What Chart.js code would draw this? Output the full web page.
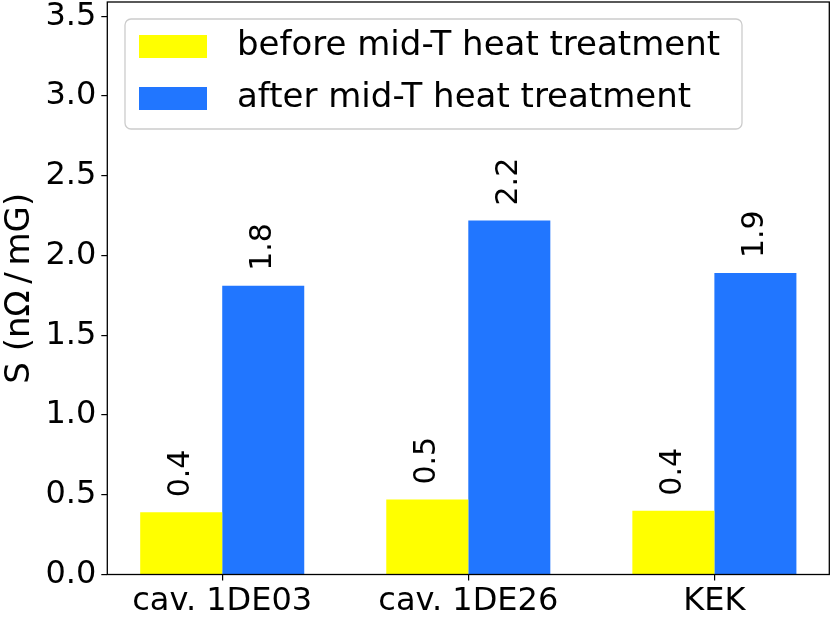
<!DOCTYPE html>
<html>
<head>
<meta charset="utf-8">
<script src="https://cdn.jsdelivr.net/npm/chart.js@4.4.1/dist/chart.umd.min.js"></script>
<style>
  html, body { margin: 0; padding: 0; background: #fff; }
  #wrap { width: 831px; height: 621px; }
</style>
</head>
<body>
<div id="wrap"><canvas id="sChart" width="831" height="621"></canvas></div>
<script>
const cavities = ["cav. 1DE03", "cav. 1DE26", "KEK"];
const seriesNames = ["before mid-T heat treatment", "after mid-T heat treatment"];
const beforeValues = [0.39, 0.47, 0.40];
const afterValues = [1.81, 2.22, 1.89];
const yTicks = [0.0, 0.5, 1.0, 1.5, 2.0, 2.5, 3.0, 3.5];
const yLabel = "S (nΩ\u2009/\u2009mG)";

const FONT = "DejaVu Sans";
const FS = 32;

// matplotlib-like frame around the plot
const framePlugin = {
  id: "frame",
  afterDraw(chart) {
    const { ctx, chartArea: a } = chart;
    ctx.save();
    ctx.strokeStyle = "#000";
    ctx.lineWidth = 1.3;
    ctx.strokeRect(a.left, a.top, a.right - a.left, a.bottom - a.top);
    ctx.restore();
  }
};

// rotated value labels above bars
const valueLabels = {
  id: "valueLabels",
  afterDatasetsDraw(chart) {
    const ctx = chart.ctx;
    ctx.save();
    ctx.fillStyle = "#000";
    ctx.font = "30px '" + FONT + "'";
    ctx.textAlign = "left";
    ctx.textBaseline = "middle";
    chart.data.datasets.forEach((ds, i) => {
      chart.getDatasetMeta(i).data.forEach((bar, j) => {
        ctx.save();
        ctx.translate(bar.x, bar.y - 15);
        ctx.rotate(-Math.PI / 2);
        ctx.fillText(ds.data[j].y.toFixed(1), 0, 0);
        ctx.restore();
      });
    });
    ctx.restore();
  }
};

// legend box in upper left, like matplotlib
const boxLegend = {
  id: "boxLegend",
  afterDraw(chart) {
    const ctx = chart.ctx;
    const x = 125, y = 19, w = 617, h = 110;
    ctx.save();
    ctx.beginPath();
    ctx.roundRect(x, y, w, h, 6);
    ctx.fillStyle = "rgba(255,255,255,0.8)";
    ctx.fill();
    ctx.strokeStyle = "#cccccc";
    ctx.lineWidth = 1.3;
    ctx.stroke();
    ctx.font = "34px '" + FONT + "'";
    ctx.textBaseline = "middle";
    chart.data.datasets.forEach((ds, i) => {
      const cy = y + 27 + i * 52;
      ctx.fillStyle = ds.backgroundColor;
      ctx.fillRect(x + 14, cy - 11, 68, 23);
      ctx.fillStyle = "#000";
      ctx.fillText(ds.label, x + 112, cy);
    });
    ctx.restore();
  }
};

new Chart(document.getElementById("sChart"), {
  type: "bar",
  data: {
    datasets: [
      { label: seriesNames[0], data: beforeValues.map((v, i) => ({ x: i, y: v })), backgroundColor: "#ffff00" },
      { label: seriesNames[1], data: afterValues.map((v, i) => ({ x: i, y: v })), backgroundColor: "#2176ff" }
    ]
  },
  options: {
    responsive: false,
    animation: false,
    categoryPercentage: 2 / 3,
    barPercentage: 1,
    layout: { padding: { top: 2, right: 1.7, left: 0, bottom: 0 } },
    plugins: {
      legend: { display: false },
      tooltip: { enabled: false }
    },
    scales: {
      x: {
        type: "linear",
        min: -0.467,
        max: 2.467,
        offset: false,
        afterBuildTicks: s => { s.ticks = cavities.map((c, i) => ({ value: i })); },
        afterFit: s => { s.height = 46.5; s.paddingLeft = 0; s.paddingRight = 0; },
        grid: { offset: false, drawOnChartArea: false, drawTicks: true, tickLength: 6, color: "#000", lineWidth: 1.2 },
        border: { display: false },
        ticks: {
          callback: v => cavities[v],
          color: "#000",
          font: { family: FONT, size: FS },
          padding: 2,
          maxRotation: 0,
          autoSkip: false
        }
      },
      y: {
        min: 0,
        max: 3.59,
        afterBuildTicks: s => { s.ticks = yTicks.map(v => ({ value: v })); },
        afterFit: s => { s.width = 107.3; s.paddingTop = 0; s.paddingBottom = 0; },
        grid: { drawOnChartArea: false, drawTicks: true, tickLength: 6, color: "#000", lineWidth: 1.2 },
        border: { display: false },
        ticks: {
          callback: v => v.toFixed(1),
          color: "#000",
          font: { family: FONT, size: FS },
          padding: 5
        },
        title: {
          display: true,
          text: yLabel,
          color: "#000",
          font: { family: FONT, size: 34 },
          padding: { top: 0, bottom: 3 }
        }
      }
    }
  },
  plugins: [framePlugin, valueLabels, boxLegend]
});
</script>
</body>
</html>
